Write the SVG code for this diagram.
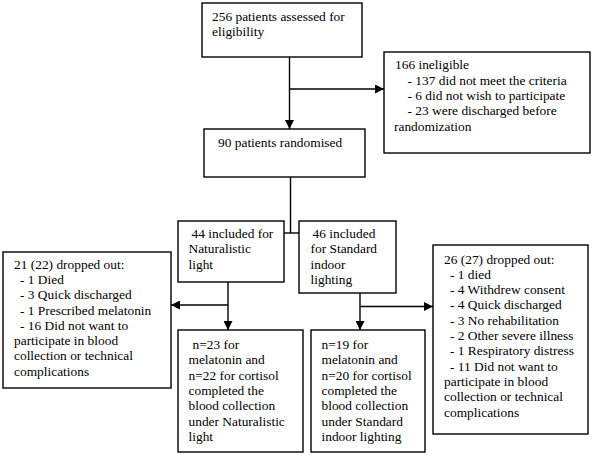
<svg xmlns="http://www.w3.org/2000/svg" width="593" height="456" viewBox="0 0 593 456">
<defs>
<marker id="ah" markerWidth="9" markerHeight="9" refX="9" refY="4.5" orient="auto" markerUnits="userSpaceOnUse">
<path d="M0,0 L9,4.5 L0,9 z" fill="#000"/>
</marker>
<style>
rect{fill:#fff;stroke:#000;stroke-width:1.4}
text{font-family:"Liberation Serif","Times New Roman",serif;font-size:13.4px;fill:#000}
.c line{stroke:#000;stroke-width:1.4}
.a{marker-end:url(#ah)}
</style>
</defs>
<rect x="0" y="0" width="593" height="456" style="fill:#fff;stroke:none"/>
<g class="c" id="connectors">
<line x1="289.5" y1="57" x2="289.5" y2="129" class="a"/>
<line x1="289.5" y1="89" x2="384" y2="89" class="a"/>
<line x1="290.5" y1="177" x2="290.5" y2="233"/>
<line x1="284" y1="233" x2="299" y2="233"/>
<line x1="228" y1="282" x2="228" y2="330" class="a"/>
<line x1="228" y1="305" x2="171" y2="305" class="a"/>
<line x1="360" y1="293" x2="360" y2="330" class="a"/>
<line x1="360" y1="306.5" x2="433" y2="306.5" class="a"/>
</g>
<g id="assessed">
<rect x="202" y="3" width="160" height="54"/>
<text x="212" y="21">256 patients assessed for</text>
<text x="212" y="36">eligibility</text>
</g>
<g id="ineligible">
<rect x="384" y="52" width="206" height="101"/>
<text x="395" y="69">166 ineligible</text>
<text x="407.5" y="84.5">- 137 did not meet the criteria</text>
<text x="407.5" y="100">- 6 did not wish to participate</text>
<text x="407.5" y="115">- 23 were discharged before</text>
<text x="394" y="130.5">randomization</text>
</g>
<g id="randomised">
<rect x="204" y="129" width="161" height="48"/>
<text x="218" y="147">90 patients randomised</text>
</g>
<g id="naturalistic">
<rect x="178" y="221" width="106" height="61"/>
<text x="191.5" y="238">44 included for</text>
<text x="188.5" y="253.3">Naturalistic</text>
<text x="188.5" y="268.6">light</text>
</g>
<g id="standard">
<rect x="299" y="221" width="97" height="72"/>
<text x="312.5" y="238">46 included</text>
<text x="310.5" y="253.3">for Standard</text>
<text x="310.5" y="268.6">indoor</text>
<text x="310.5" y="284">lighting</text>
</g>
<g id="dropout-left">
<rect x="3" y="252" width="168" height="136"/>
<text x="14" y="268.5">21 (22) dropped out:</text>
<text x="20" y="284">- 1 Died</text>
<text x="20" y="299.2">- 3 Quick discharged</text>
<text x="20" y="314.5">- 1 Prescribed melatonin</text>
<text x="20" y="329.8">- 16 Did not want to</text>
<text x="14" y="345.1">participate in blood</text>
<text x="14" y="360.4">collection or technical</text>
<text x="14" y="375.7">complications</text>
</g>
<g id="completed-naturalistic">
<rect x="178" y="330" width="125" height="122"/>
<text x="192.5" y="349">n=23 for</text>
<text x="188.5" y="364.3">melatonin and</text>
<text x="188.5" y="379.6">n=22 for cortisol</text>
<text x="188.5" y="394.9">completed the</text>
<text x="188.5" y="410.2">blood collection</text>
<text x="188.5" y="425.5">under Naturalistic</text>
<text x="188.5" y="440.8">light</text>
</g>
<g id="completed-standard">
<rect x="311" y="330" width="114" height="122"/>
<text x="321.5" y="349">n=19 for</text>
<text x="321.5" y="364.3">melatonin and</text>
<text x="321.5" y="379.6">n=20 for cortisol</text>
<text x="321.5" y="394.9">completed the</text>
<text x="321.5" y="410.2">blood collection</text>
<text x="321.5" y="425.5">under Standard</text>
<text x="321.5" y="440.8">indoor lighting</text>
</g>
<g id="dropout-right">
<rect x="433" y="245" width="155" height="189"/>
<text x="444" y="263.5">26 (27) dropped out:</text>
<text x="450" y="278.8">- 1 died</text>
<text x="450" y="294.1">- 4 Withdrew consent</text>
<text x="450" y="309.4">- 4 Quick discharged</text>
<text x="450" y="324.7">- 3 No rehabilitation</text>
<text x="450" y="340">- 2 Other severe illness</text>
<text x="450" y="355.3">- 1 Respiratory distress</text>
<text x="450" y="370.6">- 11 Did not want to</text>
<text x="444" y="385.9">participate in blood</text>
<text x="444" y="401.2">collection or technical</text>
<text x="444" y="416.5">complications</text>
</g>
</svg>
